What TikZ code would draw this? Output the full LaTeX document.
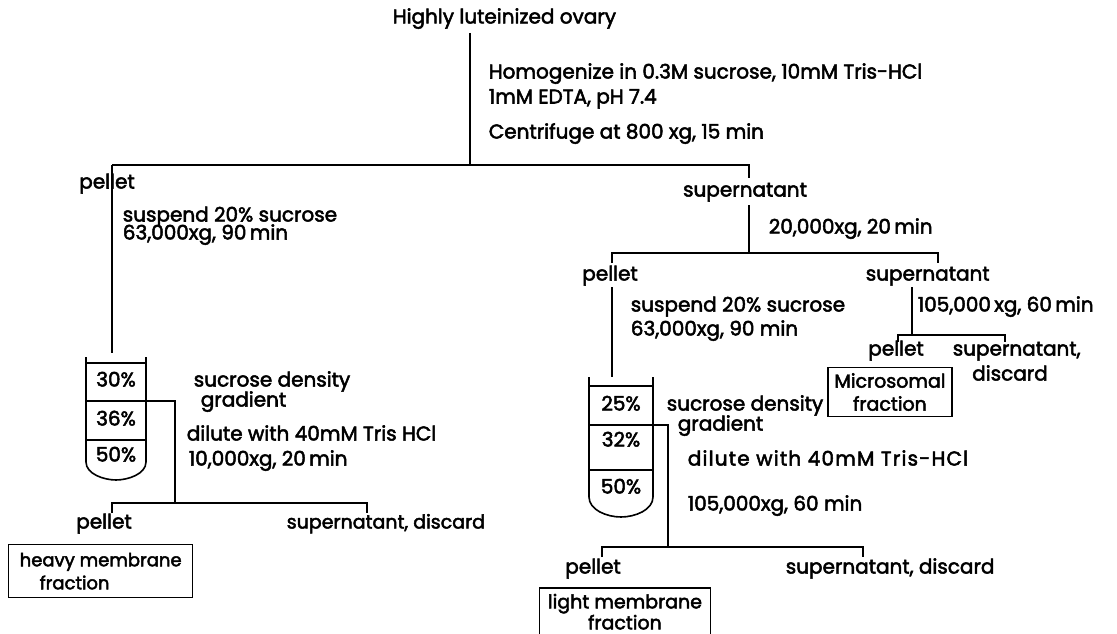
\documentclass[tikz,border=0pt]{standalone}
\usepackage{fontspec}
\setmainfont{Poppins}[FakeBold=2.5]
\usetikzlibrary{positioning}

\begin{document}
\begin{tikzpicture}[x=1pt, y=-1pt, line width=1.6pt,
    lbl/.style={anchor=west, inner sep=0pt, text height=0.7em, text depth=0pt,
        font=\fontsize{20}{24}\selectfont},
    clbl/.style={lbl, anchor=center},
    wide/.style={font=\fontsize{20}{24}\selectfont\addfontfeature{LetterSpace=6}},
    fracbox/.style={draw, line width=1.4pt, inner sep=0pt, align=center,
        font=\fontsize{19}{23}\selectfont}]

\useasboundingbox (0,0) rectangle (1117,634);

% starting material and first spin
\node[lbl] (ovary) at (392,20) {Highly luteinized ovary};
\coordinate (top) at (470,33);
\coordinate (s1) at (470,165);
\node[lbl] (homog) at (488,75) {Homogenize in 0.3M sucrose, 10mM Tris-HCl};
\node[lbl] (edta) at (488,100) {1mM EDTA, pH 7.4};
\node[lbl] (spin1) at (488,135) {Centrifuge at 800 xg, 15 min};
\coordinate (s1l) at (112,165);
\coordinate (s1r) at (749,165);
\node[clbl] (pelA) at (107,185) {pellet};
\node[clbl] (supA) at (745,193) {supernatant};

\draw (top) -- (s1);
\draw (s1l) -- (s1r) -- ++(0,13);

% heavy membrane branch
\coordinate (tA) at (112,353);
\draw (s1l) -- (tA);
\node[lbl] (susA) at (122,218) {suspend 20\% sucrose};
\node[lbl] (spinA) at (122,236) {63,000xg, 90\,min};

\draw (86,357) -- (86,462) .. controls (86,474) and (104,480) .. (116,480)
    .. controls (128,480) and (146,474) .. (146,462) -- (146,357);
\draw (86,363) -- (146,363);
\draw (86,401) -- (146,401);
\draw (86,440) -- (146,440);
\node[clbl] (a30) at (116,383) {30\%};
\node[clbl] (a36) at (116,422) {36\%};
\node[clbl] (a50) at (116,458) {50\%};

\node[lbl] (gradA) at (193,383) {sucrose density};
\node[lbl] (gradA2) at (200,403) {gradient};
\node[lbl] (dilA) at (186,437) {dilute with 40mM Tris HCl};
\node[lbl] (spinA2) at (188,462) {10,000xg, 20\,min};

\coordinate (outA) at (146,401);
\coordinate (kA) at (175,401);
\coordinate (s2) at (175,503);
\coordinate (s2l) at (112,503);
\coordinate (s2r) at (367,503);
\draw (outA) -- (kA) -- (s2);
\draw (s2l) ++(0,10) -- (s2l) -- (s2r) -- ++(0,10);

\node[clbl] (pelA2) at (104,525) {pellet};
\node[lbl, font=\fontsize{19}{24}\selectfont] (supA2) at (286,525) {supernatant, discard};
\node[fracbox, anchor=north west, minimum width=184pt, minimum height=53pt,
    align=left, font=\fontsize{18}{23}\selectfont]
    (heavy) at (8,544) {heavy membrane\\\hspace*{20pt}fraction};

% second spin of the supernatant
\coordinate (s3) at (749,253);
\draw (supA.south -| s3) ++(0,8) -- (s3);
\node[lbl] (spin2) at (768,230) {20,000xg, 20\,min};
\coordinate (s3l) at (612,253);
\coordinate (s3r) at (938,253);
\draw (s3l) ++(0,10) -- (s3l) -- (s3r) -- ++(0,10);
\node[clbl] (pelB) at (610,277) {pellet};
\node[lbl] (supB) at (865,277) {supernatant};

% light membrane branch
\coordinate (tB) at (612,377);
\draw (pelB.south -| tB) ++(0,6) -- (tB);
\node[lbl] (susB) at (630,308) {suspend 20\% sucrose};
\node[lbl] (spinB) at (630,332) {63,000xg, 90 min};

\draw (589,377) -- (589,497) .. controls (589,510) and (607,517) .. (621,517)
    .. controls (635,517) and (653,510) .. (653,497) -- (653,377);
\draw (589,386) -- (653,386);
\draw (589,425) -- (653,425);
\draw (589,470) -- (653,470);
\node[clbl] (b25) at (621,407) {25\%};
\node[clbl] (b32) at (621,443) {32\%};
\node[clbl] (b50) at (621,490) {50\%};

\node[lbl] (gradB) at (666,407) {sucrose density};
\node[lbl] (gradB2) at (677,427) {gradient};
\node[lbl, wide] (dilB) at (687,462) {dilute with 40mM Tris-HCl};
\node[lbl] (spinB2) at (687,507) {105,000xg, 60 min};

\coordinate (outB) at (653,425);
\coordinate (kB) at (668,425);
\coordinate (s4) at (668,547);
\coordinate (s4l) at (602,547);
\coordinate (s4r) at (863,547);
\draw (outB) -- (kB) -- (s4);
\draw (s4l) ++(0,10) -- (s4l) -- (s4r) -- ++(0,10);

\node[clbl] (pelB2) at (593,570) {pellet};
\node[lbl] (supB2) at (785,570) {supernatant, discard};
\node[fracbox, draw=none, anchor=north, minimum width=170pt, minimum height=46pt,
    font=\fontsize{19}{21}\selectfont] (light) at (625,588) {light membrane\\fraction};
\draw[line width=1.4pt] (light.south west) -- (light.north west)
    -- (light.north east) -- (light.south east);

% microsomal branch
\coordinate (s5) at (912,335);
\draw (supB.south -| s5) ++(0,6) -- (s5);
\node[lbl] (spinC) at (917,308) {105,000\,xg, 60\,min};
\coordinate (s5l) at (898,335);
\coordinate (s5r) at (1005,335);
\draw (s5l) ++(0,7) -- (s5l) -- (s5r) -- ++(0,7);
\node[clbl] (pelC) at (896,352) {pellet};
\node[lbl] (supC) at (952,352) {supernatant,};
\node[clbl] (discC) at (1010,377) {discard};
\node[fracbox, minimum width=124pt, minimum height=49pt]
    (micro) at (890,392) {Microsomal\\fraction};

\end{tikzpicture}
\end{document}
